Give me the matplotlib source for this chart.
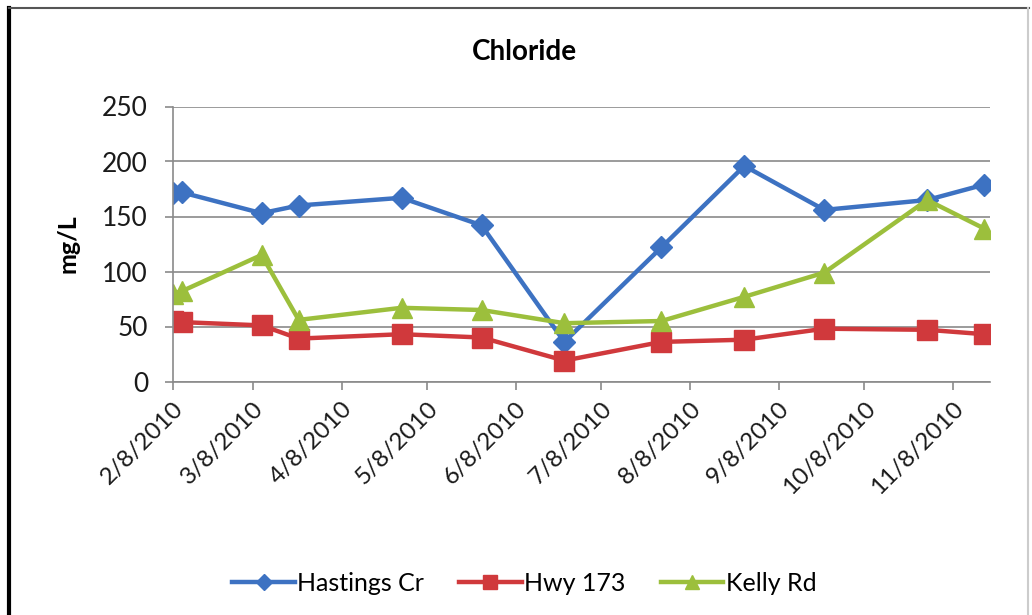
import matplotlib
matplotlib.use("Agg")
import matplotlib.pyplot as plt
from matplotlib.lines import Line2D
import numpy as np

plt.rcParams['font.family'] = ['Lato', 'DejaVu Sans']

# sampling dates (m/d/y)
dates = ["2010-02-08", "2010-02-11", "2010-03-11", "2010-03-24", "2010-04-29",
         "2010-05-27", "2010-06-25", "2010-07-29", "2010-08-27", "2010-09-24",
         "2010-10-30", "2010-11-19"]
hastings = [171, 172, 153, 160, 167, 142, 36, 122, 196, 156, 165, 179]
hwy173 = [55, 54, 51, 39, 43, 40, 19, 36, 38, 48, 47, 43]
kelly = [80, 82, 115, 56, 67, 65, 53, 55, 77, 99, 165, 139]

tick_dates = ["2010-02-08", "2010-03-08", "2010-04-08", "2010-05-08", "2010-06-08",
              "2010-07-08", "2010-08-08", "2010-09-08", "2010-10-08", "2010-11-08"]
tick_labels = ["2/8/2010", "3/8/2010", "4/8/2010", "5/8/2010", "6/8/2010",
               "7/8/2010", "8/8/2010", "9/8/2010", "10/8/2010", "11/8/2010"]

x = np.array(dates, dtype="datetime64[D]")
xt = np.array(tick_dates, dtype="datetime64[D]")

fig = plt.figure(figsize=(10.32, 6.15), dpi=100)
W, H = 1032, 615
ax = fig.add_axes([173 / W, 1 - 381.5 / H, (990 - 173) / W, (381.5 - 106.5) / H])

ax.plot(x, hastings, color="#3d72c2", lw=3.2, marker="D", ms=11, label="Hastings Cr")
ax.plot(x, hwy173, color="#d0393c", lw=3.2, marker="s", ms=14, label="Hwy 173")
ax.plot(x, kelly, color="#9cbf3c", lw=3.2, marker="^", ms=14, label="Kelly Rd")

ax.set_ylim(0, 250)
ax.set_yticks([0, 50, 100, 150, 200, 250])
ax.set_xlim(np.datetime64("2010-02-08"), np.datetime64("2010-11-21"))
ax.set_xticks(xt)
ax.set_xticklabels(tick_labels, rotation=45, ha="right", rotation_mode="anchor")
ax.grid(axis="y", color="#8a8a8a", lw=1.2)
ax.set_axisbelow(True)
for s in ["top", "right"]:
    ax.spines[s].set_visible(False)
for s in ["left", "bottom"]:
    ax.spines[s].set_color("#8a8a8a")
    ax.spines[s].set_linewidth(1.2)
ax.tick_params(axis="both", colors="#8a8a8a", labelcolor="#1a1a1a",
               labelsize=17.5, length=6, width=1.2)
ax.tick_params(axis="y", labelsize=19, pad=12)
ax.tick_params(axis="x", pad=6)
ax.set_ylabel("mg/L", fontsize=18, fontweight="bold", labelpad=16)
fig.text(524 / W, 1 - 52 / H, "Chloride", fontsize=20, fontweight="bold",
         ha="center", va="center")

ax.legend(loc="upper center", bbox_to_anchor=(0.43, -0.61), ncol=3, frameon=False,
          fontsize=18, handlelength=2.5, handletextpad=0.1, columnspacing=1.4,
          markerscale=0.7)

# frame of the pasted chart
fig.add_artist(Line2D([9 / W, 9 / W], [0, 1 - 8 / H], color="black", lw=3))
fig.add_artist(Line2D([9 / W, 1029 / W], [1 - 8 / H, 1 - 8 / H], color="#555555", lw=1.5))
fig.add_artist(Line2D([1028 / W, 1028 / W], [0, 1 - 8 / H], color="#cccccc", lw=1.5))

fig.savefig("out.png", dpi=100)
